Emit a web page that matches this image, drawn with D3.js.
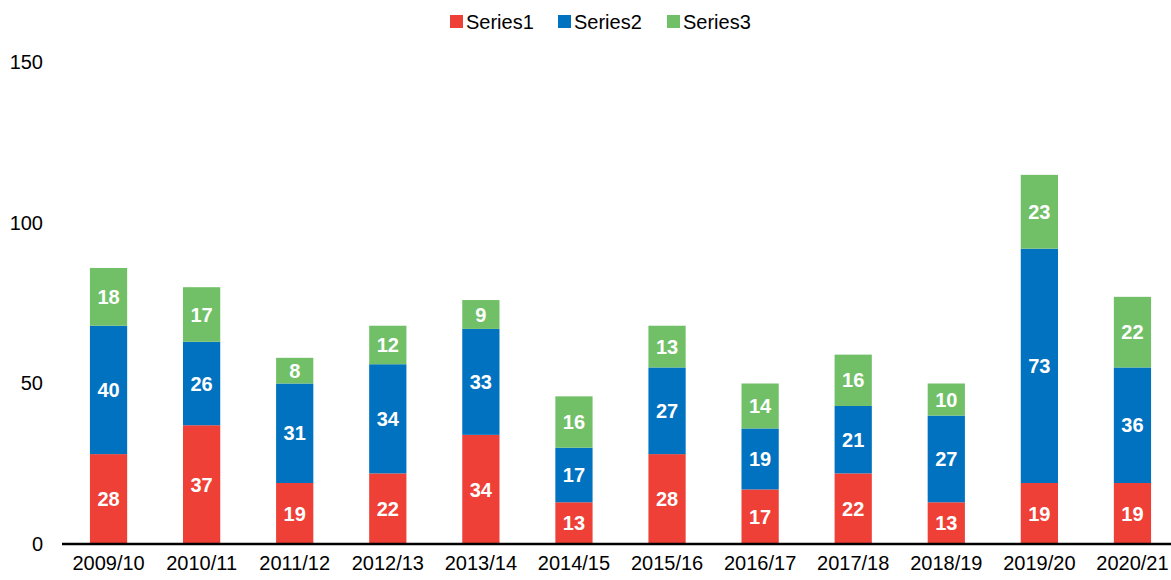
<!DOCTYPE html>
<html>
<head>
<meta charset="utf-8">
<script src="https://cdn.jsdelivr.net/npm/d3@7"></script>
<style>
  body { margin: 0; background: #fff; }
  svg { display: block; font-family: "Liberation Sans", Arial, sans-serif; }
</style>
</head>
<body>
<div id="chart"></div>
<script>
// chart data
const years = ["2009/10", "2010/11", "2011/12", "2012/13", "2013/14", "2014/15",
  "2015/16", "2016/17", "2017/18", "2018/19", "2019/20", "2020/21"];
const series1 = [28, 37, 19, 22, 34, 13, 28, 17, 22, 13, 19, 19];
const series2 = [40, 26, 31, 34, 33, 17, 27, 19, 21, 27, 73, 36];
const series3 = [18, 17, 8, 12, 9, 16, 13, 14, 16, 10, 23, 22];
const seriesNames = ["Series1", "Series2", "Series3"];
const yTicks = [0, 50, 100, 150];

const colors = ["#ee4036", "#0072bf", "#71c068"];

const svgWidth = 1171;
const svgHeight = 580;

const svg = d3.select("#chart")
  .append("svg")
  .attr("width", svgWidth)
  .attr("height", svgHeight);

// build rows for the stack layout
const rows = years.map((y, i) => ({
  year: y,
  Series1: series1[i],
  Series2: series2[i],
  Series3: series3[i]
}));

const stacked = d3.stack().keys(seriesNames)(rows);

// scales
const xScale = d3.scaleBand()
  .domain(years)
  .range([62, 1179])
  .paddingInner(0.6)
  .paddingOuter(0.3);

const yScale = d3.scaleLinear()
  .domain([0, 150])
  .range([544, 62.5]);

// y tick labels (no axis line)
const leftAxis = d3.axisLeft(yScale)
  .tickValues(yTicks)
  .tickSize(0)
  .tickPadding(0);

svg.append("g")
  .attr("transform", "translate(43, 0)")
  .call(leftAxis)
  .call(g => g.select(".domain").remove())
  .selectAll("text")
  .attr("font-size", 20)
  .attr("font-family", "Liberation Sans, Arial, sans-serif")
  .attr("fill", "#000");

// bars
const layers = svg.append("g")
  .selectAll("g")
  .data(stacked)
  .enter()
  .append("g")
  .attr("fill", (d, i) => colors[i]);

layers.selectAll("rect")
  .data(d => d)
  .enter()
  .append("rect")
  .attr("x", d => xScale(d.data.year))
  .attr("y", d => yScale(d[1]))
  .attr("width", xScale.bandwidth())
  .attr("height", d => yScale(d[0]) - yScale(d[1]));

// value labels
layers.selectAll("text")
  .data(d => d)
  .enter()
  .append("text")
  .attr("x", d => xScale(d.data.year) + xScale.bandwidth() / 2)
  .attr("y", d => (yScale(d[0]) + yScale(d[1])) / 2)
  .attr("dy", "0.36em")
  .attr("text-anchor", "middle")
  .attr("font-size", 20)
  .attr("font-weight", "bold")
  .attr("fill", "#fff")
  .text(d => d[1] - d[0]);

// x axis
const bottomAxis = d3.axisBottom(xScale)
  .tickSize(0)
  .tickPadding(12);

const xAxis = svg.append("g")
  .attr("transform", "translate(0, 544)")
  .call(bottomAxis);

xAxis.select(".domain").remove();
xAxis.append("line")
  .attr("x1", 62)
  .attr("x2", 1171)
  .attr("stroke", "#000")
  .attr("stroke-width", 2.5);
xAxis.selectAll("text")
  .attr("font-size", 20)
  .attr("font-family", "Liberation Sans, Arial, sans-serif")
  .attr("fill", "#000");

// legend
const legendX = [450, 558, 667];
const legend = svg.append("g")
  .selectAll("g")
  .data(seriesNames)
  .enter()
  .append("g")
  .attr("transform", (d, i) => `translate(${legendX[i]}, 15)`);

legend.append("rect")
  .attr("width", 13)
  .attr("height", 13)
  .attr("fill", (d, i) => colors[i]);

legend.append("text")
  .attr("x", 16)
  .attr("y", 6.5)
  .attr("dy", "0.36em")
  .attr("font-size", 20)
  .attr("fill", "#000")
  .text(d => d);
</script>
</body>
</html>
